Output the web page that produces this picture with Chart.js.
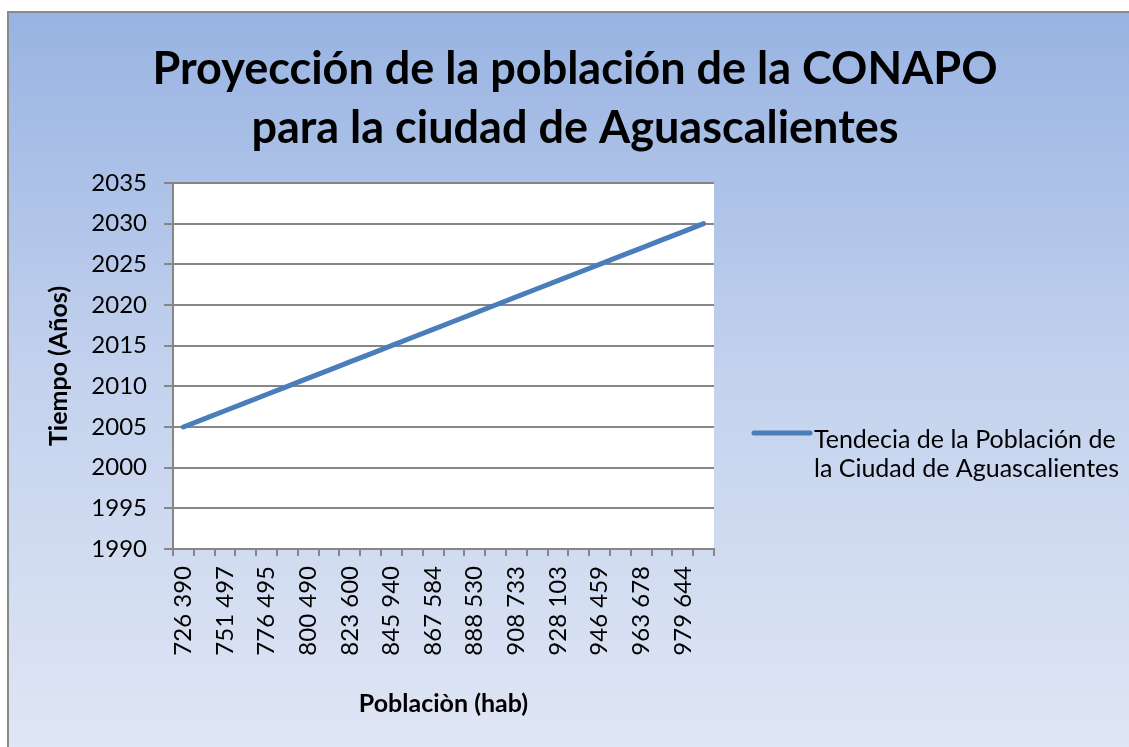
<!DOCTYPE html>
<html lang="es">
<head>
  <meta charset="UTF-8" />
  <title>Proyección de la población de la CONAPO</title>
  <script src="https://cdn.jsdelivr.net/npm/chart.js"></script>
  <style>
    html, body { margin: 0; padding: 0; background: #fff; overflow: hidden; }
    canvas { display: block; }
  </style>
</head>
<body>
  <canvas id="chart" width="1129" height="747"></canvas>

  <script>
    // population labels (x); only every other one is printed in the original
    const poblacion = [
      '726 390', '', '751 497', '', '776 495', '', '800 490', '', '823 600', '',
      '845 940', '', '867 584', '', '888 530', '', '908 733', '', '928 103', '',
      '946 459', '', '963 678', '', '979 644', ''
    ];
    // year for each point
    const anios = [
      2005, 2006, 2007, 2008, 2009, 2010, 2011, 2012, 2013, 2014,
      2015, 2016, 2017, 2018, 2019, 2020, 2021, 2022, 2023, 2024,
      2025, 2026, 2027, 2028, 2029, 2030
    ];
    const serieNombre = ['Tendecia de la Población de', 'la Ciudad de Aguascalientes'];
    const tituloLineas = ['Proyección de la población de la CONAPO', 'para la ciudad de Aguascalientes'];

    const FONT = 'Lato, "Open Sans", sans-serif';
    const lineColor = '#4a7ebb';

    // blue gradient frame + white plotting area
    const background = {
      id: 'background',
      beforeDraw(chart) {
        const { ctx, width, height, chartArea: a } = chart;
        ctx.save();
        ctx.fillStyle = '#ffffff';
        ctx.fillRect(0, 0, width, height);
        const g = ctx.createLinearGradient(0, 11, 0, height);
        g.addColorStop(0, '#98b3e2');
        g.addColorStop(0.5, '#c4d2ee');
        g.addColorStop(1, '#dfe6f4');
        ctx.fillStyle = g;
        ctx.fillRect(7, 11, width - 7, height - 11);
        ctx.strokeStyle = '#8a8a8a';
        ctx.lineWidth = 2;
        ctx.beginPath();
        ctx.moveTo(8, height);
        ctx.lineTo(8, 12);
        ctx.lineTo(width, 12);
        ctx.stroke();
        ctx.fillStyle = '#ffffff';
        ctx.fillRect(a.left, a.top, a.right - a.left, a.bottom - a.top);
        ctx.restore();
      }
    };

    // title centred on the whole frame
    const bigTitle = {
      id: 'bigTitle',
      afterDraw(chart) {
        const { ctx } = chart;
        ctx.save();
        ctx.fillStyle = '#000';
        ctx.font = 'bold 45px ' + FONT;
        ctx.textAlign = 'center';
        ctx.textBaseline = 'middle';
        tituloLineas.forEach((t, i) => ctx.fillText(t, 575, 69 + i * 59));
        ctx.restore();
      }
    };

    // two-line legend on the right, like the original
    const sideLegend = {
      id: 'sideLegend',
      afterDraw(chart) {
        const { ctx } = chart;
        const ds = chart.data.datasets[0];
        ctx.save();
        ctx.strokeStyle = ds.borderColor;
        ctx.lineWidth = 5;
        ctx.lineCap = 'round';
        ctx.beginPath();
        ctx.moveTo(754, 433);
        ctx.lineTo(810, 433);
        ctx.stroke();
        ctx.fillStyle = '#000';
        ctx.font = '25px ' + FONT;
        ctx.textBaseline = 'middle';
        ctx.textAlign = 'left';
        ds.label.forEach((t, i) => ctx.fillText(t, 814, 440 + i * 29));
        ctx.restore();
      }
    };

    new Chart(document.getElementById('chart'), {
      type: 'line',
      data: {
        labels: poblacion,
        datasets: [{
          label: serieNombre,
          data: anios,
          borderColor: lineColor,
          borderWidth: 5,
          pointRadius: 0,
          tension: 0,
          borderCapStyle: 'round'
        }]
      },
      plugins: [background, bigTitle, sideLegend],
      options: {
        responsive: false,
        animation: false,
        layout: { padding: { left: 0, right: 415, top: 183, bottom: 0 } },
        plugins: {
          legend: { display: false },
          tooltip: { enabled: false },
          title: { display: false }
        },
        scales: {
          x: {
            offset: true,
            afterFit(scale) { scale.height = 198; },
            grid: { drawOnChartArea: false, offset: true, color: '#868686', lineWidth: 2, tickLength: 7 },
            border: { color: '#868686', width: 2 },
            ticks: {
              autoSkip: false, maxRotation: 90, minRotation: 90, padding: 10,
              color: '#000', font: { family: FONT, size: 24 }
            },
            title: {
              display: true, text: 'Poblaciòn (hab)', color: '#000',
              font: { family: FONT, size: 25, weight: 'bold' },
              padding: { top: 0, bottom: 28 }
            }
          },
          y: {
            min: 1990, max: 2035,
            afterFit(scale) { scale.width = 173; },
            grid: { color: '#868686', lineWidth: 2, tickLength: 9 },
            border: { color: '#868686', width: 2 },
            ticks: {
              stepSize: 5, padding: 17, color: '#000', font: { family: FONT, size: 24 },
              callback: v => String(v)
            },
            title: {
              display: true, text: 'Tiempo (Años)', color: '#000',
              font: { family: FONT, size: 25, weight: 'bold' },
              padding: { top: 44, bottom: 0 }
            }
          }
        }
      }
    });
  </script>
</body>
</html>
